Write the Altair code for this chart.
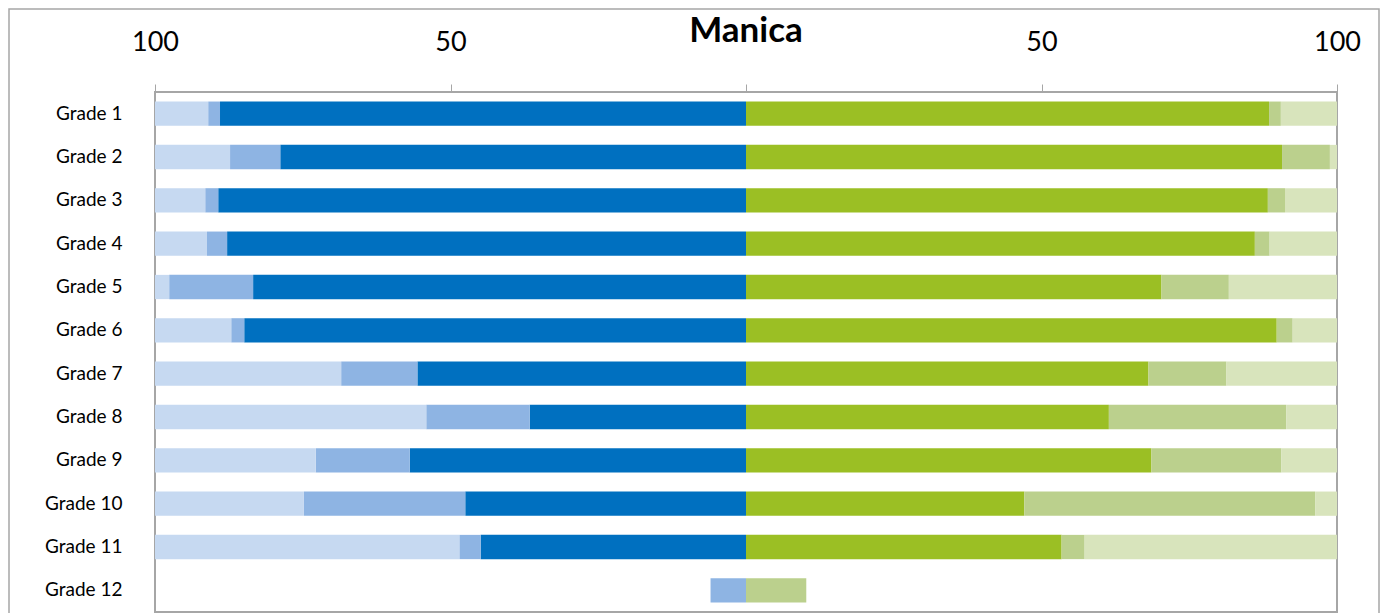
import altair as alt
import pandas as pd

grades = [f"Grade {i}" for i in range(1, 13)]

left_dark = [89.0, 78.8, 89.3, 87.8, 83.4, 84.9, 55.6, 36.6, 56.9, 47.5, 44.9, 0.0]
left_mid = [2.0, 8.5, 2.2, 3.4, 14.2, 2.2, 12.9, 17.5, 15.9, 27.3, 3.6, 6.0]
left_light = [9.0, 12.7, 8.5, 8.8, 2.4, 12.9, 31.5, 45.9, 27.2, 25.2, 51.5, 0.0]

right_dark = [88.5, 90.7, 88.3, 86.1, 70.3, 89.8, 68.1, 61.4, 68.6, 47.1, 53.4, 0.0]
right_mid = [2.0, 8.1, 2.9, 2.5, 11.4, 2.7, 13.2, 30.0, 22.0, 49.2, 3.9, 10.2]
right_light = [9.5, 1.2, 8.8, 11.4, 18.3, 7.5, 18.7, 8.6, 9.4, 3.7, 42.7, 0.0]

seg_names = ["L dark", "L mid", "L light", "R dark", "R mid", "R light"]
seg_colors = ["#0070C0", "#8EB4E3", "#C6D9F1", "#9BBF24", "#BBD08D", "#D8E4BC"]

rows = []
for i, g in enumerate(grades):
    pos = 0.0
    for name, vals in (("L dark", left_dark), ("L mid", left_mid), ("L light", left_light)):
        v = vals[i]
        if v > 0:
            rows.append({"grade": g, "seg": name, "start": -pos, "end": -(pos + v), "value": v})
        pos += v
    pos = 0.0
    for name, vals in (("R dark", right_dark), ("R mid", right_mid), ("R light", right_light)):
        v = vals[i]
        if v > 0:
            rows.append({"grade": g, "seg": name, "start": pos, "end": pos + v, "value": v})
        pos += v
df = pd.DataFrame(rows)

W, H = 1182, 520

bars = alt.Chart(df).mark_bar().encode(
    y=alt.Y(
        "grade:N",
        sort=grades,
        scale=alt.Scale(paddingInner=0.44, paddingOuter=0.22),
        axis=alt.Axis(
            title=None, ticks=False, domain=False, labelPadding=33,
            labelFontSize=19, labelFont="Lato", labelColor="#000000",
        ),
    ),
    x=alt.X(
        "start:Q",
        scale=alt.Scale(domain=[-100, 100], nice=False, zero=False),
        axis=alt.Axis(
            orient="top", values=[-100, -50, 0, 50, 100],
            labelExpr="datum.value == 0 ? '' : abs(datum.value)",
            title=None, grid=False, tickSize=8, tickColor="#A6A6A6",
            domainColor="#A6A6A6", labelFont="Lato", labelFontSize=27,
            labelColor="#000000", labelBaseline="alphabetic", labelPadding=34,
            labelFlush=False,
        ),
    ),
    x2="end:Q",
    color=alt.Color("seg:N", scale=alt.Scale(domain=seg_names, range=seg_colors), legend=None),
)

title_df = pd.DataFrame({"t": ["Manica"]})
title = alt.Chart(title_df).mark_text(
    font="Lato", fontSize=35, fontWeight="bold", baseline="alphabetic", align="center", color="#000000"
).encode(x=alt.value(W / 2), y=alt.value(-50), text="t:N")

frame = alt.Chart(title_df).mark_rect(
    fill=None, stroke="#A6A6A6", strokeWidth=1.5
).encode(x=alt.value(-146), x2=alt.value(1224), y=alt.value(-83), y2=alt.value(540))

chart = alt.layer(frame, bars, title).properties(
    width=W, height=H,
    autosize=alt.AutoSizeParams(type="none"),
    padding={"left": 147, "top": 84, "right": 43, "bottom": 1},
).configure_view(stroke="#A6A6A6", strokeWidth=2)

chart.save("out.html", embed_options={"renderer": "svg", "actions": False})
